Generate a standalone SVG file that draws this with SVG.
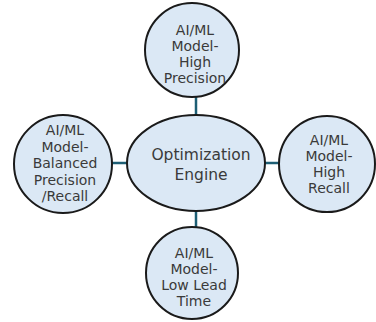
<svg xmlns="http://www.w3.org/2000/svg" width="376" height="322" viewBox="0 0 376 322">
<style>
.n{fill:#dbe8f5;stroke:#1a1a1a;stroke-width:2}
.c{stroke:#1d5e74;stroke-width:2.5;fill:none}
text{font-family:"DejaVu Sans",Verdana,sans-serif;font-size:14px;fill:#3a3a3a;text-anchor:middle}
.big{font-size:15.5px}
</style>
<rect width="376" height="322" fill="#ffffff"/>
<g id="connectors">
<line class="c" x1="196" y1="96" x2="196" y2="116"/>
<line class="c" x1="112" y1="163" x2="128" y2="163"/>
<line class="c" x1="264" y1="163" x2="280" y2="163"/>
<line class="c" x1="196" y1="210" x2="196" y2="229"/>
</g>
<g id="engine">
<ellipse class="n" cx="196" cy="163" rx="69" ry="48"/>
<text class="big" x="201" y="160">Optimization</text>
<text class="big" x="201" y="180">Engine</text>
</g>
<g id="high-precision">
<circle class="n" cx="192" cy="50" r="47"/>
<text x="195" y="35">AI/ML</text>
<text x="195" y="51">Model-</text>
<text x="195" y="67">High</text>
<text x="195" y="83">Precision</text>
</g>
<g id="balanced">
<circle class="n" cx="63" cy="164" r="49"/>
<text x="65" y="135">AI/ML</text>
<text x="65" y="151.5">Model-</text>
<text x="65" y="168">Balanced</text>
<text x="65" y="184.5">Precision</text>
<text x="65" y="201">/Recall</text>
</g>
<g id="high-recall">
<circle class="n" cx="327" cy="164" r="48"/>
<text x="329" y="145">AI/ML</text>
<text x="329" y="161">Model-</text>
<text x="329" y="177">High</text>
<text x="329" y="193">Recall</text>
</g>
<g id="low-lead-time">
<circle class="n" cx="192" cy="273" r="46"/>
<text x="194" y="258">AI/ML</text>
<text x="194" y="274">Model-</text>
<text x="194" y="290">Low Lead</text>
<text x="194" y="306">Time</text>
</g>
</svg>
